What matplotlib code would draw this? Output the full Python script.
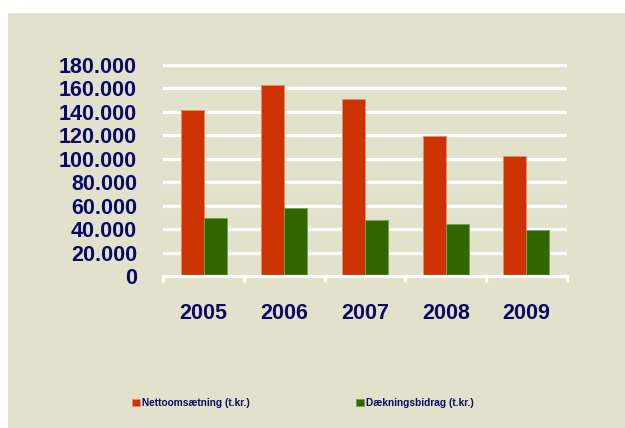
import numpy as np
import matplotlib.pyplot as plt
from matplotlib.patches import Rectangle

# --- DATA ---
years = ['2005', '2006', '2007', '2008', '2009']
netto = [141000, 163000, 151000, 119000, 102000]
daekning = [49000, 57700, 47400, 44000, 38900]
series_names = ['Nettoomsætning (t.kr.)', 'Dækningsbidrag (t.kr.)']
yticks = [0, 20000, 40000, 60000, 80000, 100000, 120000, 140000, 160000, 180000]

# --- STYLE ---
BG = '#e2e1cb'
RED = '#cc3300'
GREEN = '#336600'
NAVY = '#0a0a66'
plt.rcParams['font.family'] = ['Liberation Sans', 'DejaVu Sans']

fig = plt.figure(figsize=(6.25, 4.28), dpi=100)
fig.patch.set_facecolor('white')
fig.patches.append(Rectangle((8 / 625, 0), 1 - 8 / 625, 1 - 13 / 428,
                             transform=fig.transFigure, facecolor=BG,
                             edgecolor='none', zorder=-10))

ax = fig.add_axes([163.4 / 625, 1 - 276 / 428, 403.4 / 625, 212.5 / 428])
ax.set_facecolor('none')

x = np.arange(len(years))
w = 0.285
ax.bar(x - w / 2, netto, w, color=RED, edgecolor='#e88a6e', linewidth=0.7,
       label=series_names[0], zorder=3)
ax.bar(x + w / 2, daekning, w, color=GREEN, edgecolor='#7aa050', linewidth=0.7,
       label=series_names[1], zorder=3)

ax.set_xlim(-0.5, len(years) - 0.5)
ax.set_ylim(0, 181000)
ax.set_yticks(yticks)
ax.set_yticklabels([f'{v:,}'.replace(',', '.') for v in yticks])
ax.set_xticks(x)
ax.set_xticklabels(years)
ax.set_xticks(np.arange(len(years) + 1) - 0.5, minor=True)

ax.grid(axis='y', color='white', linewidth=2.3, zorder=1)
ax.set_axisbelow(True)
for s in ['left', 'right', 'top']:
    ax.spines[s].set_visible(False)
ax.spines['bottom'].set_color('white')
ax.spines['bottom'].set_linewidth(2.3)
ax.spines['bottom'].set_zorder(4)

ax.tick_params(axis='y', length=0, pad=19, labelsize=15.5, labelcolor=NAVY)
ax.tick_params(axis='x', which='major', length=0, pad=19.5, labelsize=15.5,
               labelcolor=NAVY)
ax.tick_params(axis='x', which='minor', length=4, width=2.3, color='white',
               direction='out')
for lab in ax.get_xticklabels() + ax.get_yticklabels():
    lab.set_fontweight('bold')

# legend: two separate entries placed as in the original
handles, labels = ax.get_legend_handles_labels()
for h, l, xa in zip(handles, labels, [132 / 625, 356 / 625]):
    fig.legend([h], [l], loc='center left', bbox_to_anchor=(xa, 1 - 403 / 428),
               frameon=False, borderpad=0, borderaxespad=0,
               handlelength=0.75, handleheight=0.75, handletextpad=0.25,
               prop={'size': 7.3, 'weight': 'bold'}, labelcolor=NAVY)

fig.savefig('out.png', dpi=100)
